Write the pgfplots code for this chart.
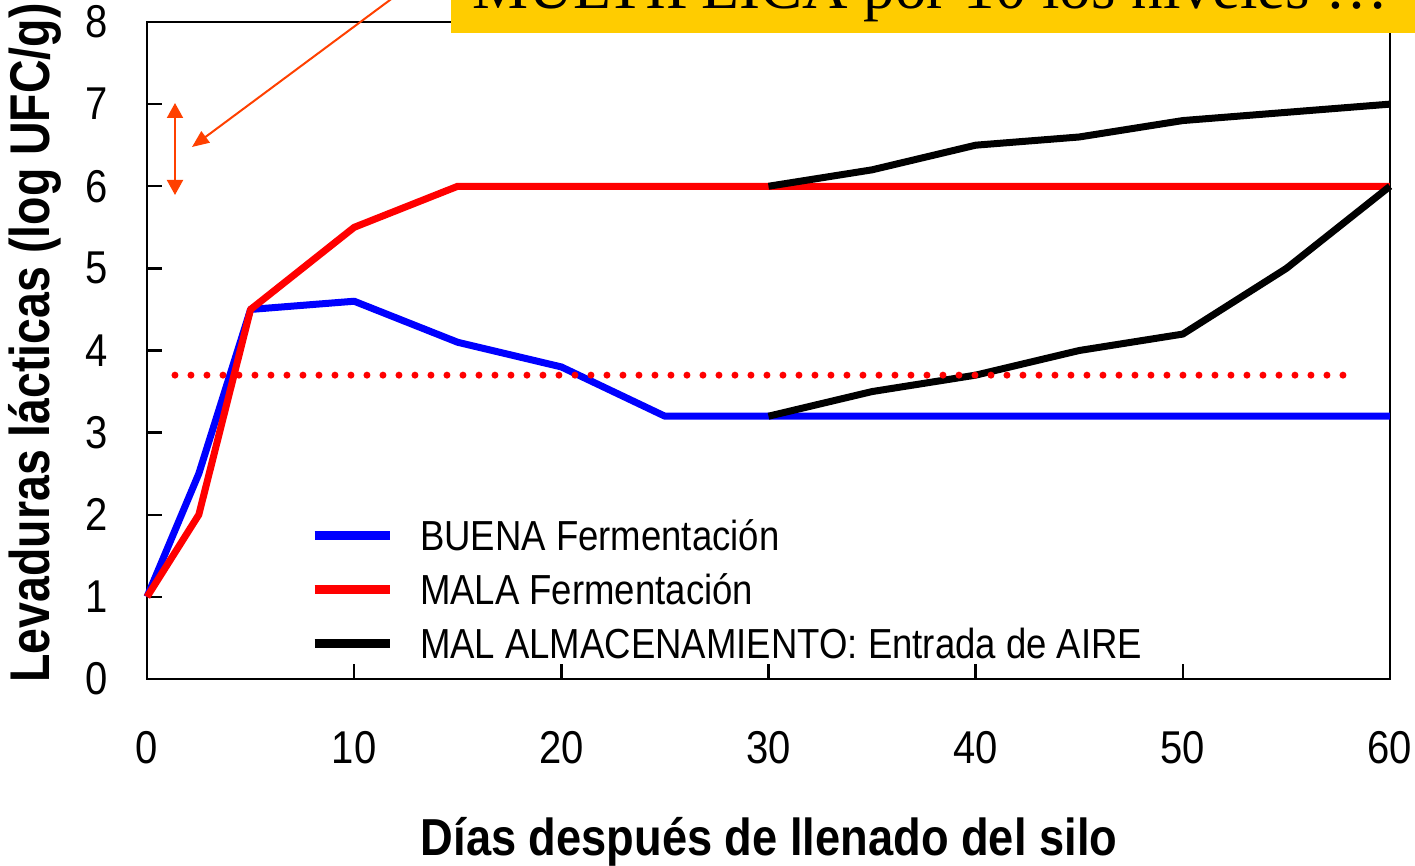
\documentclass[border=0pt]{standalone}
\usepackage{fontspec}
\setmainfont{Liberation Sans}[FakeStretch=0.87]
\newfontfamily\ylabfont{Liberation Sans}[FakeStretch=0.83]
\newfontfamily\timesfont{Liberation Serif}
\usepackage{pgfplots}
\pgfplotsset{compat=1.18}
\usetikzlibrary{arrows.meta}
\definecolor{arrowred}{RGB}{255,64,0}
\definecolor{boxyellow}{RGB}{255,204,0}
\begin{document}
\begin{tikzpicture}
\useasboundingbox (-73.5bp,-93.5bp) rectangle (634bp,339.5bp);
\clip (-73.5bp,-93.5bp) rectangle (634bp,339.5bp);
\begin{axis}[
  at={(0,0)}, anchor=south west,
  width=621.5bp, height=328.5bp, scale only axis,
  xmin=0, xmax=60, ymin=0, ymax=8,
  xtick={0,10,...,60}, ytick={0,1,...,8},
  tick align=inside, tick pos=left,
  major tick length=7.5bp,
  axis line style={line width=1.2bp},
  tick style={line width=1.2bp, black},
  tick label style={font=\fontsize{23bp}{23bp}\selectfont, inner sep=0pt},
  xticklabel style={yshift=-26bp},
  yticklabel style={xshift=-19.5bp},
  /pgf/number format/assume math mode=true,
  clip=false,
  legend cell align=left,
  legend image code/.code={\draw[#1, line width=4.5bp] (0bp,0bp) -- (37.5bp,0bp);},
  legend style={at={(axis cs:7.87,1.936)}, anchor=north west, draw=none, fill=none,
    inner sep=0pt, outer sep=0pt, row sep=12bp, column sep=13bp,
    font=\fontsize{21bp}{21bp}\selectfont,
    nodes={inner sep=0pt, text height=15bp, text depth=0bp}},
]
\addplot[blue, line width=3.5bp, line join=round] coordinates {(0,1) (2.5,2.5) (5,4.5) (10,4.6) (15,4.1) (20,3.8) (25,3.2) (60,3.2)};
\addlegendentry{BUENA Fermentación}
\addplot[red, line width=3.5bp, line join=round] coordinates {(0,1) (2.5,2.0) (5,4.5) (10,5.5) (15,6) (60,6)};
\addlegendentry{MALA Fermentación}
\addplot[black, line width=3.5bp, line join=round] coordinates {(30,6) (35,6.2) (40,6.5) (45,6.6) (50,6.8) (55,6.9) (60,7.0)};
\addlegendentry{MAL ALMACENAMIENTO: Entrada de AIRE}
\addplot[black, line width=3.5bp, line join=round, forget plot] coordinates {(30,3.2) (35,3.5) (40,3.7) (45,4.0) (50,4.2) (55,5.0) (60,6.0)};
\addplot[red, line width=3.5bp, line cap=round, dash pattern=on 0bp off 8bp, forget plot] coordinates {(1.35,3.7) (57.9,3.7)};
\end{axis}
\draw[arrowred, line width=1bp, -{Triangle[length=8.5bp,width=7bp]}] (156.5bp,365.5bp) -- (22.5bp,266bp);
\draw[arrowred, line width=1bp, {Triangle[length=7.5bp,width=8bp]}-{Triangle[length=7.5bp,width=8bp]}] (14bp,242bp) -- (14bp,288bp);
\fill[boxyellow] (152bp,323bp) rectangle (650bp,380bp);
\node[anchor=base west, inner sep=0pt, font=\timesfont\fontsize{31.5bp}{31.5bp}\selectfont] at (162.5bp,335bp) {MULTIPLICA por 10 los niveles …};
\node[rotate=90, anchor=base west, inner sep=0pt, font=\ylabfont\bfseries\fontsize{28bp}{28bp}\selectfont] at (-48.5bp,-2bp) {Levaduras lácticas (log UFC/g)};
\node[anchor=base, inner sep=0pt, font=\bfseries\fontsize{26bp}{26bp}\selectfont] at (311bp,-88bp) {Días después de llenado del silo};
\end{tikzpicture}
\end{document}
